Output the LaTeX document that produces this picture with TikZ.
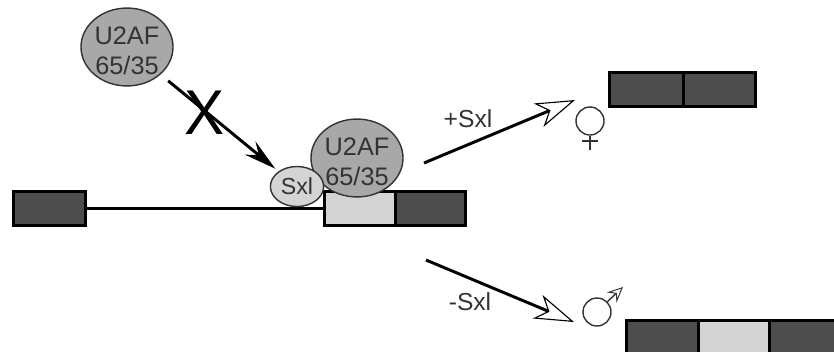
\documentclass[tikz,border=0pt]{standalone}
\usepackage{xcolor}
\usepackage{fontspec}
\setmainfont{Liberation Sans}
\usetikzlibrary{arrows.meta,shapes.geometric}

\definecolor{exondark}{HTML}{4D4D4D}
\definecolor{exonlight}{HTML}{D4D4D4}
\definecolor{factorgray}{HTML}{A8A8A8}
\definecolor{labelgray}{HTML}{333333}

\begin{document}
\begin{tikzpicture}[x=0.025cm,y=-0.025cm]
        \def\exonh{0.85cm}
        \useasboundingbox (0,0) rectangle (834,351);
        \clip (0,0) rectangle (834,351);

        \tikzset{
           exon/.style={draw=black, line width=2.1pt, anchor=north west, outer sep=0pt, inner sep=0pt,
              minimum height=\exonh},
           factor/.style={ellipse, draw=labelgray, line width=1pt, fill=factorgray, text=labelgray,
              align=center, inner sep=0pt, minimum width=2.3cm, minimum height=1.8cm,
              text height=39pt, font=\fontsize{18}{21}\selectfont},
           sxlfactor/.style={factor, fill=exonlight, minimum width=1.33cm, minimum height=1.0cm,
              text height=12pt, font=\fontsize{16.5}{20}\selectfont},
           arrowlabel/.style={text=labelgray, inner sep=0pt, font=\fontsize{17.5}{20}\selectfont},
           ring/.style={circle, draw=labelgray, line width=1pt, inner sep=0pt, minimum size=0.7cm},
           sign/.style={draw=labelgray, line width=1pt},
           solidarrow/.style={line width=2.1pt, -{Stealth[length=23pt,width=12pt,inset=8pt]}},
           openarrow/.style={line width=2.1pt, -{Stealth[length=28pt,width=18pt,inset=8pt,line width=0.8pt,fill=white]}}
        }

        % Pre-mRNA
        \node[exon, fill=exondark, minimum width=1.8cm] (ExonA) at (13.5,191.5) {};
        \node[exon, fill=exonlight, minimum width=1.775cm] (ExonB) at (324.5,191.5) {};
        \node[exon, fill=exondark, minimum width=1.75cm] (ExonC) at (ExonB.north east) {};
        \draw[line width=2.1pt] (ExonA.east) -- (ExonB.west);

        % Factors
        \node[factor] (FreeU2AF) at (127,47) {U2AF\\65/35};
        \node[factor] (BoundU2AF) at (357,158) {U2AF\\65/35};
        \node[sxlfactor] (Sxl) at (297,186.5) {Sxl};

        % Blocked binding
        \draw[solidarrow, shorten <=7pt, shorten >=3pt] (FreeU2AF) -- (Sxl);
        \node[font=\fontsize{45}{45}\selectfont, xscale=0.95, inner sep=0pt] (Block) at (205,113) {X};

        % Female
        \coordinate (PlusStart) at (424,163);
        \coordinate (PlusEnd) at (575,100);
        \draw[openarrow] (PlusStart) -- (PlusEnd);
        \node[arrowlabel] (PlusLabel) at (468,119) {+Sxl};
        \node[ring] (Female) at (590,121) {};
        \coordinate (FemaleEnd) at (590,150);
        \coordinate (BarLeft) at (582,141);
        \coordinate (BarRight) at (598,141);
        \draw[sign] (Female.south) -- (FemaleEnd);
        \draw[sign] (BarLeft) -- (BarRight);
        \node[exon, fill=exondark, minimum width=1.85cm] (FemaleA) at (609.5,72.5) {};
        \node[exon, fill=exondark, minimum width=1.8cm] (FemaleB) at (FemaleA.north east) {};

        % Male
        \coordinate (MinusStart) at (426,260);
        \coordinate (MinusEnd) at (574,322);
        \draw[openarrow] (MinusStart) -- (MinusEnd);
        \node[arrowlabel] (MinusLabel) at (470,302) {-Sxl};
        \node[ring] (Male) at (597,312) {};
        \coordinate (MaleEnd) at (623,287);
        \draw[sign, -{Stealth[length=11pt,width=10pt,inset=4pt,fill=white,line width=0.7pt]}] (Male.45) -- (MaleEnd);
        \node[exon, fill=exondark, minimum width=1.8cm] (MaleA) at (626.5,320.5) {};
        \node[exon, fill=exonlight, minimum width=1.775cm] (MaleB) at (MaleA.north east) {};
        \node[exon, fill=exondark, minimum width=2.5cm] (MaleC) at (MaleB.north east) {};
    \end{tikzpicture}
\end{document}
